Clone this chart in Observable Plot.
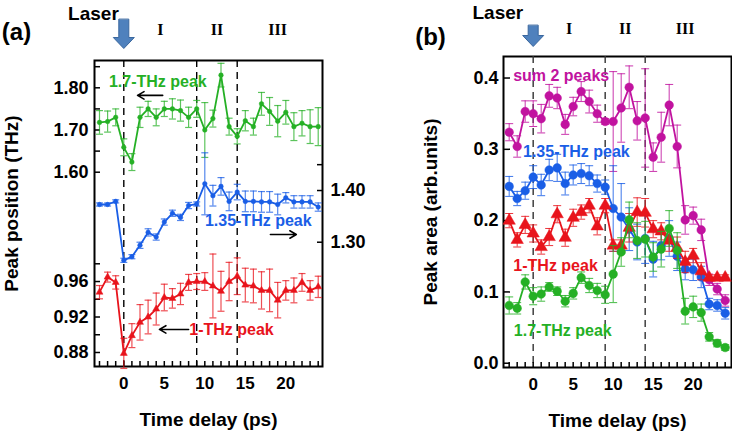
<!DOCTYPE html>
<html><head><meta charset="utf-8">
<script src="https://cdn.jsdelivr.net/npm/d3@7"></script>
<script src="https://cdn.jsdelivr.net/npm/@observablehq/plot@0.6"></script>
<style>
body{margin:0;background:#fff;}
#wrap{position:relative;width:732px;height:432px;overflow:hidden;}
.layer{position:absolute;top:0;}
</style></head><body><div id="wrap"></div>
<script>
// ---------- shared ----------
const delay = [-3,-2,-1,0,1,2,3,4,5,6,7,8,9,10,11,12,13,14,15,16,17,18,19,20,21,22,23,24];
const regionBounds = [0, 9, 14];
const regionNames = ["I", "II", "III"];
const regionCenters = [4.5, 11.5, 19];
const xTickLabels = [0, 5, 10, 15, 20];

// ---------- panel (a): peak positions (THz) ----------
const pos17 = [1.718,1.72,1.73,1.659,1.624,1.73,1.75,1.73,1.75,1.75,1.746,1.73,1.75,1.70,1.727,1.83,1.708,1.685,1.722,1.708,1.762,1.744,1.721,1.742,1.708,1.716,1.708,1.708];
const pos17Err = [0.028,0.025,0.02,0.02,0.02,0.024,0.018,0.02,0.018,0.024,0.025,0.024,0.02,0.065,0.02,0.028,0.02,0.018,0.024,0.02,0.027,0.033,0.037,0.028,0.033,0.03,0.04,0.045];
const pos135 = [1.373,1.373,1.379,1.265,1.272,1.294,1.319,1.31,1.339,1.356,1.348,1.371,1.374,1.413,1.39,1.408,1.379,1.397,1.379,1.379,1.378,1.378,1.373,1.386,1.378,1.378,1.378,1.368];
const pos135Err = [0.003,0.003,0.003,0.004,0.004,0.006,0.007,0.006,0.006,0.006,0.006,0.006,0.004,0.06,0.02,0.017,0.018,0.015,0.02,0.02,0.02,0.02,0.02,0.01,0.012,0.012,0.012,0.008];
const pos1 = [0.948,0.965,0.959,0.879,0.899,0.914,0.92,0.929,0.942,0.941,0.946,0.959,0.96,0.96,0.955,0.949,0.96,0.966,0.956,0.955,0.95,0.95,0.939,0.95,0.95,0.959,0.95,0.954];
const pos1Err = [0.0075,0.0056,0.0075,0.017,0.0135,0.02,0.019,0.018,0.015,0.011,0.012,0.009,0.009,0.01,0.036,0.0225,0.0216,0.0207,0.019,0.019,0.021,0.024,0.02,0.011,0.014,0.01,0.011,0.012];
const yTicks17 = [1.60, 1.70, 1.80];
const yMinor17 = [1.60, 1.65, 1.70, 1.75, 1.80, 1.85];
const yTicks135 = [1.30, 1.40];
const yMinor135 = [1.30, 1.40, 1.45];
const yTicks1 = [0.88, 0.92, 0.96];
const yMinor1 = [0.88, 0.90, 0.92, 0.94, 0.96, 0.98];

// ---------- panel (b): peak areas (arb. units) ----------
const areaSum = [0.324,0.304,0.353,0.35,0.343,0.375,0.372,0.335,0.36,0.381,0.367,0.35,0.339,0.339,0.358,0.387,0.34,0.344,0.289,0.317,0.362,0.304,0.201,0.207,0.187,0.117,0.104,0.088];
const areaSumErr = [0.012,0.015,0.015,0.018,0.02,0.016,0.015,0.014,0.013,0.014,0.016,0.012,0.004,0.07,0.048,0.03,0.027,0.069,0.02,0.035,0.029,0.03,0.02,0.012,0.015,0.008,0.008,0.008];
const area135 = [0.248,0.231,0.242,0.261,0.25,0.271,0.274,0.252,0.264,0.266,0.263,0.252,0.247,0.217,0.205,0.188,0.17,0.175,0.146,0.165,0.175,0.15,0.132,0.131,0.121,0.083,0.081,0.07];
const area135Err = [0.014,0.01,0.012,0.016,0.015,0.015,0.019,0.016,0.014,0.014,0.014,0.012,0.01,0.06,0.047,0.03,0.025,0.035,0.025,0.02,0.025,0.02,0.015,0.015,0.015,0.008,0.008,0.008];
const area1 = [0.2,0.173,0.194,0.182,0.163,0.177,0.209,0.176,0.204,0.212,0.221,0.192,0.221,0.165,0.165,0.19,0.212,0.211,0.188,0.185,0.172,0.162,0.142,0.151,0.129,0.12,0.12,0.12];
const area1Err = [0.01,0.01,0.012,0.012,0.01,0.012,0.012,0.012,0.012,0.01,0.01,0.012,0.01,0.008,0.008,0.02,0.02,0.02,0.012,0.012,0.015,0.015,0.015,0.01,0.012,0.004,0.004,0.004];
const area17 = [0.081,0.077,0.114,0.094,0.097,0.107,0.101,0.087,0.098,0.12,0.109,0.102,0.096,0.125,0.156,0.201,0.172,0.174,0.149,0.16,0.189,0.158,0.073,0.079,0.071,0.037,0.028,0.022];
const area17Err = [0.012,0.008,0.01,0.012,0.01,0.006,0.006,0.008,0.008,0.008,0.01,0.01,0.012,0.04,0.02,0.025,0.025,0.025,0.02,0.025,0.025,0.025,0.018,0.015,0.012,0.006,0.005,0.004];
const yTicksB = [0.0, 0.1, 0.2, 0.3, 0.4];

// ---------- styles ----------
const GREEN = "#25b025", BLUE = "#1a5ee6", RED = "#e8141c", MAGENTA = "#c1139f";
const SANS = "Liberation Sans, Arial, sans-serif";
const SERIF = "Liberation Serif, Times New Roman, serif";
const wrap = document.getElementById("wrap");

function rows(v, e) { return delay.map((t, i) => ({t, v: v[i], e: e[i]})); }
const cap = {draw(ctx, size) { const r = Math.sqrt(size / Math.PI); ctx.moveTo(-r, 0); ctx.lineTo(r, 0); }};
const blockArrow = {draw(ctx, l) {
  const h = 11, sw = 5, hw = 10.5;
  ctx.moveTo(-sw, 0); ctx.lineTo(-sw, -(l - h)); ctx.lineTo(-hw, -(l - h));
  ctx.lineTo(0, -l); ctx.lineTo(hw, -(l - h)); ctx.lineTo(sw, -(l - h)); ctx.lineTo(sw, 0); ctx.closePath();
}};

function series(data, color, symbol, r, o) {
  const {lw = 1.8, ew = 1.2, capR = 3.5, eo = 0.75} = o || {};
  const eb = {x: "t", stroke: color, strokeWidth: ew, strokeOpacity: eo};
  return [
    Plot.ruleX(data, {...eb, y1: d => d.v - d.e, y2: d => d.v + d.e}),
    Plot.dot(data, {...eb, y: d => d.v + d.e, symbol: cap, r: capR, fill: "none"}),
    Plot.dot(data, {...eb, y: d => d.v - d.e, symbol: cap, r: capR, fill: "none"}),
    Plot.line(data, {x: "t", y: "v", stroke: color, strokeWidth: lw}),
    Plot.dot(data, {x: "t", y: "v", symbol, r, fill: color, stroke: color, strokeWidth: 0.5})
  ];
}

function addLayer(left, options) {
  const div = document.createElement("div");
  div.className = "layer";
  div.style.left = left + "px";
  div.appendChild(Plot.plot({
    height: 432,
    style: {background: "transparent", overflow: "visible", fontFamily: SANS},
    ...options
  }));
  wrap.appendChild(div);
}

const bold = {fontWeight: "bold", fontFamily: SANS};
const centered = {textAnchor: "middle", lineAnchor: "middle"};

function chrome(o) {
  return [
    Plot.frame({stroke: "#000", strokeWidth: 2}),
    Plot.ruleX(regionBounds, {stroke: o.dashColor, strokeWidth: 1.4, strokeDasharray: "7,5"}),
    Plot.axisX({ticks: xTickLabels, tickSize: 0, tickPadding: 10, fontSize: 17, ...bold, label: null}),
    Plot.axisX({ticks: delay, tickSize: -5, strokeWidth: 1.5, tickFormat: () => "", label: null}),
    Plot.text(["Time delay (ps)"], {frameAnchor: "bottom", dy: 53, fontSize: 19, ...bold, ...centered}),
    Plot.text([o.yTitle], {frameAnchor: "left", rotate: -90, dx: o.yTitleDx, dy: o.yTitleDy, fontSize: 19, ...bold, ...centered}),
    Plot.text(regionNames, {x: regionCenters, text: d => d, frameAnchor: "top", dy: o.romanDy, fontFamily: SERIF, fontWeight: "bold", fontSize: 16, ...centered}),
    Plot.text(["Laser"], {x: [0], text: d => d, frameAnchor: "top", textAnchor: "end", lineAnchor: "middle", dx: o.laserDx, dy: o.laserDy, fontSize: 19, ...bold}),
    Plot.vector([0], {x: d => d, frameAnchor: "top", anchor: "start", rotate: 180, length: o.arrowLen, dy: o.arrowDy, shape: blockArrow, fill: "#4f81bd", stroke: "#3a679e", strokeWidth: 1}),
    Plot.text([o.panel], {frameAnchor: "top-left", dx: o.panelDx, dy: o.panelDy, fontSize: 24, ...bold, ...centered})
  ];
}

// ---------- panel (a) ----------
const A = {width: 370, marginLeft: 94, marginRight: 48, marginTop: 60, marginBottom: 66};
const xA = [-3.617, 24.53];

addLayer(0, {...A, x: {type: "linear", domain: xA}, y: {domain: [1.1396, 1.8647]}, marks: [
  ...chrome({dashColor: "#000", yTitle: "Peak position (THz)", yTitleDx: -83, yTitleDy: -10,
    romanDy: -31, laserDx: -5, laserDy: -47, arrowLen: 29, arrowDy: -41, panel: "(a)", panelDx: -78, panelDy: -28}),
  Plot.axisY({ticks: yTicks17, tickSize: 0, tickPadding: 6, tickFormat: d3.format(".2f"), fontSize: 18, ...bold, label: null}),
  Plot.axisY({ticks: yMinor17, tickSize: -6, strokeWidth: 1.5, tickFormat: () => "", label: null}),
  ...series(rows(pos17, pos17Err), GREEN, "circle", 2.3),
  Plot.text(["1.7-THz peak"], {x: 4.2, y: 1.815, text: d => d, fill: GREEN, fontSize: 16, ...bold}),
  Plot.arrow([0], {x1: 4.8, x2: 1.7, y1: 1.782, y2: 1.782, stroke: "#000", strokeWidth: 1.6, headLength: 7})
]});

addLayer(0, {...A, x: {type: "linear", domain: xA, axis: null}, y: {domain: [1.0596, 1.6515]}, marks: [
  Plot.axisY({anchor: "right", ticks: yTicks135, tickSize: 0, tickPadding: 8, tickFormat: d3.format(".2f"), fontSize: 18, ...bold, label: null}),
  Plot.axisY({anchor: "right", ticks: yMinor135, tickSize: -6, strokeWidth: 1.5, tickFormat: () => "", label: null}),
  ...series(rows(pos135, pos135Err), BLUE, "circle", 2.3),
  Plot.text(["1.35-THz peak"], {x: 16.6, y: 1.342, text: d => d, fill: BLUE, fontSize: 16, ...bold}),
  Plot.arrow([0], {x1: 18.1, x2: 21.3, y1: 1.315, y2: 1.315, stroke: "#000", strokeWidth: 1.6, headLength: 7})
]});

addLayer(0, {...A, x: {type: "linear", domain: xA, axis: null}, y: {domain: [0.8642, 1.2092]}, marks: [
  Plot.axisY({ticks: yTicks1, tickSize: 0, tickPadding: 6, tickFormat: d3.format(".2f"), fontSize: 18, ...bold, label: null}),
  Plot.axisY({ticks: yMinor1, tickSize: -6, strokeWidth: 1.5, tickFormat: () => "", label: null}),
  ...series(rows(pos1, pos1Err), RED, "triangle", 2.6),
  Plot.text(["1-THz peak"], {x: 13.3, y: 0.905, text: d => d, fill: RED, fontSize: 16, ...bold}),
  Plot.arrow([0], {x1: 8.0, x2: 4.4, y1: 0.906, y2: 0.906, stroke: "#000", strokeWidth: 1.6, headLength: 7})
]});

// ---------- panel (b) ----------
const bOpts = {lw: 1.8, ew: 1, capR: 4, eo: 0.85};
addLayer(370, {width: 362, marginLeft: 133, marginRight: 1, marginTop: 56, marginBottom: 65,
  x: {type: "linear", domain: [-3.71, 24.79]}, y: {domain: [-0.006, 0.4302]}, marks: [
  ...chrome({dashColor: "#333", yTitle: "Peak area (arb.units)", yTitleDx: -73, yTitleDy: 0,
    romanDy: -28, laserDx: -10, laserDy: -44, arrowLen: 21, arrowDy: -31, panel: "(b)", panelDx: -73, panelDy: -19}),
  Plot.axisY({ticks: yTicksB, tickSize: 0, tickPadding: 5, tickFormat: d3.format(".1f"), fontSize: 18, ...bold, label: null}),
  Plot.axisY({ticks: yTicksB, tickSize: -7, strokeWidth: 1.5, tickFormat: () => "", label: null}),
  ...series(rows(areaSum, areaSumErr), MAGENTA, "circle", 4.3, bOpts),
  ...series(rows(area135, area135Err), BLUE, "circle", 4.3, bOpts),
  ...series(rows(area1, area1Err), RED, "triangle", 4.6, bOpts),
  ...series(rows(area17, area17Err), GREEN, "circle", 4.3, bOpts),
  Plot.text(["sum 2 peaks"], {x: 3.5, y: 0.403, text: d => d, fill: MAGENTA, fontSize: 16, ...bold}),
  Plot.text(["1.35-THz peak"], {x: 5.4, y: 0.296, text: d => d, fill: BLUE, fontSize: 16, ...bold}),
  Plot.text(["1-THz peak"], {x: 2.8, y: 0.137, text: d => d, fill: RED, fontSize: 16, ...bold}),
  Plot.text(["1.7-THz peak"], {x: 3.7, y: 0.046, text: d => d, fill: GREEN, fontSize: 16, ...bold})
]});
</script>
</body></html>
